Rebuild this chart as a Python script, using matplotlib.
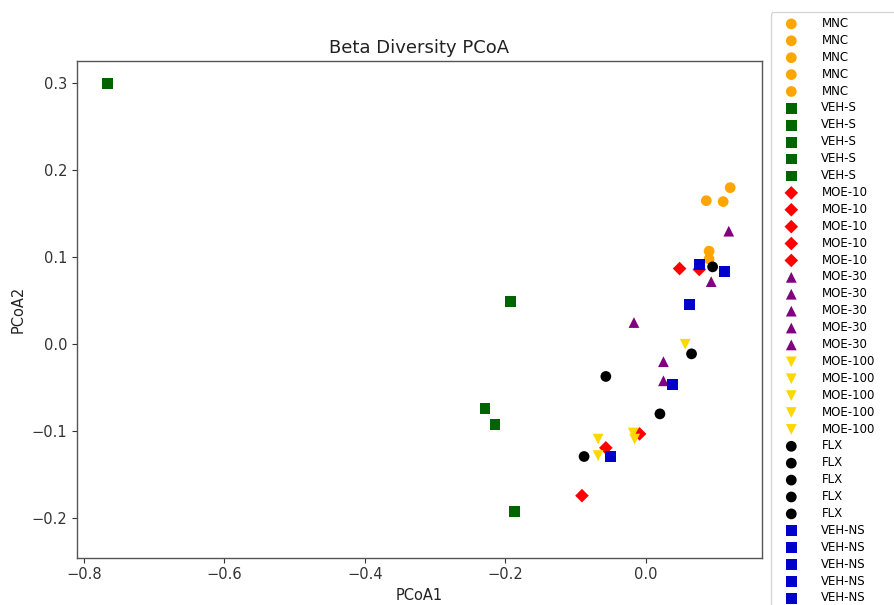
import matplotlib
matplotlib.use('Agg')
import matplotlib.pyplot as plt
import numpy as np

# groups in legend order, 5 samples each
groups = ['MNC', 'VEH-S', 'MOE-10', 'MOE-30', 'MOE-100', 'FLX', 'VEH-NS']
colors = ['orange', 'darkgreen', 'red', 'purple', 'gold', 'black', 'mediumblue']
markers = ['o', 's', 'D', '^', 'v', 'o', 's']

# PCoA coordinates
pc1 = {
    'MNC':     [0.120, 0.086, 0.110, 0.090, 0.090],
    'VEH-S':   [-0.766, -0.193, -0.229, -0.215, -0.187],
    'MOE-10':  [0.048, 0.076, -0.009, -0.057, -0.091],
    'MOE-30':  [0.118, 0.093, -0.017, 0.025, 0.025],
    'MOE-100': [0.056, -0.018, -0.016, -0.068, -0.068],
    'FLX':     [0.095, 0.065, -0.057, 0.020, -0.088],
    'VEH-NS':  [0.076, 0.112, 0.062, 0.038, -0.050],
}
pc2 = {
    'MNC':     [0.180, 0.165, 0.164, 0.107, 0.098],
    'VEH-S':   [0.300, 0.049, -0.074, -0.092, -0.192],
    'MOE-10':  [0.087, 0.086, -0.103, -0.119, -0.174],
    'MOE-30':  [0.130, 0.072, 0.025, -0.020, -0.042],
    'MOE-100': [0.000, -0.102, -0.109, -0.109, -0.128],
    'FLX':     [0.089, -0.011, -0.037, -0.080, -0.129],
    'VEH-NS':  [0.092, 0.084, 0.046, -0.046, -0.129],
}

fig = plt.figure(figsize=(8.94, 6.05), dpi=100, facecolor='white')
ax = fig.add_axes([0.0861, 0.0782, 0.766, 0.821])

# one scatter call per sample, so each gets its own legend entry
for g, c, m in zip(groups, colors, markers):
    for x, y in zip(pc1[g], pc2[g]):
        ax.scatter(x, y, color=c, marker=m, s=60 if m != 'D' else 48,
                   edgecolors='none', label=g)

ax.set_xlim(-0.81, 0.165)
ax.set_ylim(-0.2453, 0.3256)
ax.set_xticks([-0.8, -0.6, -0.4, -0.2, 0.0])
ax.set_yticks([-0.2, -0.1, 0.0, 0.1, 0.2, 0.3])
ax.tick_params(labelsize=10.5, colors='#333333')
for sp in ax.spines.values():
    sp.set_color('#555555')
    sp.set_linewidth(1.0)

ax.set_xlabel('PCoA1', fontsize=10.5, color='#222222')
ax.set_ylabel('PCoA2', fontsize=10.5, color='#222222')
ax.set_title('Beta Diversity PCoA', fontsize=13, color='#222222')

# legend sits outside the axes and runs past the right and bottom edges
fig.legend(loc='upper left', bbox_to_anchor=(0.862, 0.0, 0.2, 0.9797),
           mode='expand', borderaxespad=0,
           fontsize=8.5, labelspacing=0.33, handlelength=2.7, handletextpad=1.2,
           scatterpoints=1, edgecolor='#cccccc')

fig.savefig('out.png', dpi=100, facecolor='white')
